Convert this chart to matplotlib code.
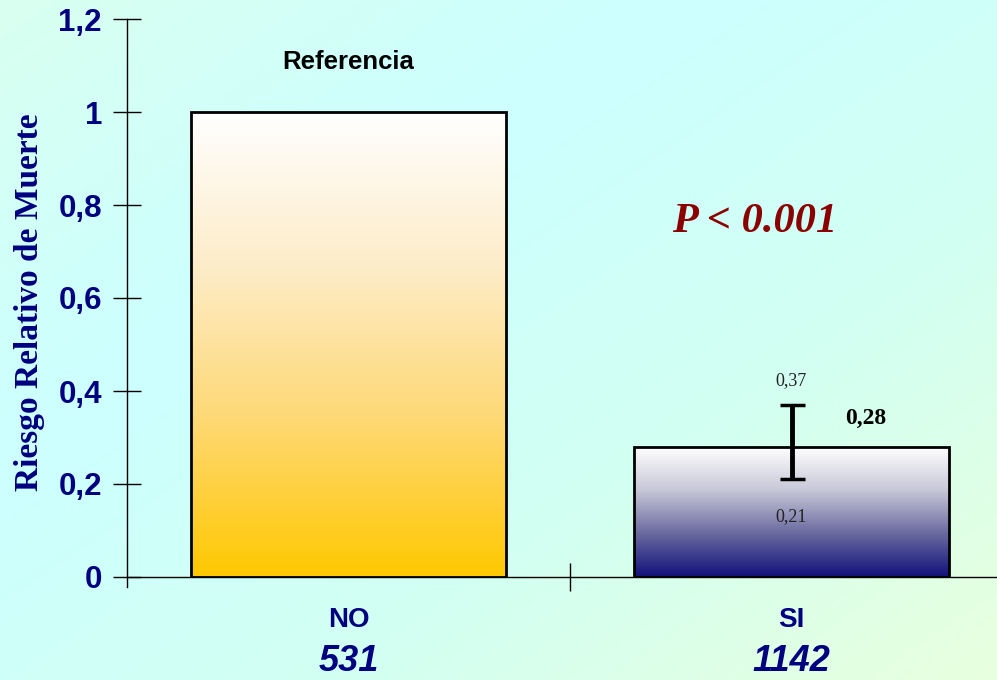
import numpy as np
import matplotlib
matplotlib.use('Agg')
from matplotlib import pyplot as plt
from matplotlib.colors import LinearSegmentedColormap


categories = ['NO', 'SI']
counts = ['531', '1142']
risk = [1.0, 0.28]
ci_low = [None, 0.21]
ci_high = [None, 0.37]
yticks = [0, 0.2, 0.4, 0.6, 0.8, 1.0, 1.2]

navy = '#000080'
sans = 'Liberation Sans'
serif = 'Liberation Serif'


def fmt(v):
    s = f'{v:.2f}'.rstrip('0').rstrip('.')
    return s.replace('.', ',')


fig = plt.figure(figsize=(9.97, 6.8), dpi=100)

# background: diagonal three-stop gradient
bg = fig.add_axes([0, 0, 1, 1], zorder=-5)
gx, gy = np.meshgrid(np.linspace(0, 1, 400), np.linspace(0, 1, 300))
t = (gx + gy) / 2
bg_cmap = LinearSegmentedColormap.from_list(
    'bg', ['#d9fff0', '#ccffff', '#d2fff2', '#e8ffde'])
bg.imshow(t, cmap=bg_cmap, aspect='auto', extent=(0, 1, 1, 0))
bg.set_axis_off()

W, H = 997, 680
ax = fig.add_axes([127 / W, (H - 577) / H, 870 / W, 558 / H])
ax.patch.set_alpha(0)

x = np.arange(len(categories))
bars = ax.bar(x, risk, width=0.713, facecolor='none', edgecolor='black',
              linewidth=2, zorder=3)

bar_cmaps = [
    LinearSegmentedColormap.from_list('no', ['#ffc800', '#fed873', '#fdecc8', '#ffffff']),
    LinearSegmentedColormap.from_list('si', ['#11117a', '#6a6aa0', '#c8c8d8', '#ffffff']),
]
grad = np.linspace(0, 1, 256).reshape(-1, 1)
for b, cm in zip(bars, bar_cmaps):
    x0, w, h = b.get_x(), b.get_width(), b.get_height()
    im = ax.imshow(grad, cmap=cm, aspect='auto', origin='lower',
                   extent=(x0, x0 + w, 0, h), zorder=2)
    im.set_clip_path(b)

ax.set_xlim(-0.5, -0.5 + 870 / 443)
ax.set_ylim(0, 1.2)

# confidence interval of the second bar
ax.errorbar(x[1], risk[1], yerr=[[risk[1] - ci_low[1]], [ci_high[1] - risk[1]]],
            fmt='none', ecolor='black', elinewidth=3.5, capsize=9, capthick=2.5,
            zorder=4)

for s in ['top', 'right']:
    ax.spines[s].set_visible(False)
ax.spines['left'].set_bounds(-0.022, 1.2)
ax.spines['left'].set_linewidth(1)
ax.spines['bottom'].set_linewidth(1)

ax.set_yticks(yticks)
ax.set_yticklabels([fmt(v) for v in yticks], fontsize=22.5, fontweight='bold',
                   color=navy, family=sans)
ax.tick_params(axis='y', direction='inout', length=20, width=1, pad=8)
ax.set_xticks([0.5])
ax.set_xticklabels([])
ax.tick_params(axis='x', direction='inout', length=20, width=1)

tr = ax.get_xaxis_transform()
for xi, cat, n in zip(x, categories, counts):
    ax.text(xi, -0.077, cat, transform=tr, ha='center', va='center',
            fontsize=20, fontweight='bold', color=navy, family=sans)
    ax.text(xi, -0.152, n, transform=tr, ha='center', va='center',
            fontsize=26, fontweight='bold', fontstyle='italic', color=navy,
            family=sans)

fig.text(30 / W, 1 - 302 / H, 'Riesgo Relativo de Muerte', rotation=90,
         ha='center', va='center', fontsize=24, fontweight='bold',
         color=navy, family=serif)

ax.text(x[0], 1.108, 'Referencia', ha='center', va='center', fontsize=18.5,
        fontweight='bold', color='black', family=sans)
ax.text(0.916, 0.763, 'P < 0.001', ha='center', va='center', fontsize=30.5,
        fontweight='bold', fontstyle='italic', color='#8b0000', family=serif)
ax.text(x[1], 0.4215, fmt(ci_high[1]), ha='center', va='center', fontsize=13,
        color='#222222', family=serif)
ax.text(x[1], 0.129, fmt(ci_low[1]), ha='center', va='center', fontsize=13,
        color='#222222', family=serif, zorder=5)
ax.text(1.168, 0.34, fmt(risk[1]), ha='center', va='center', fontsize=17,
        fontweight='bold', color='black', family=serif)

fig.savefig('out.png', dpi=100)
